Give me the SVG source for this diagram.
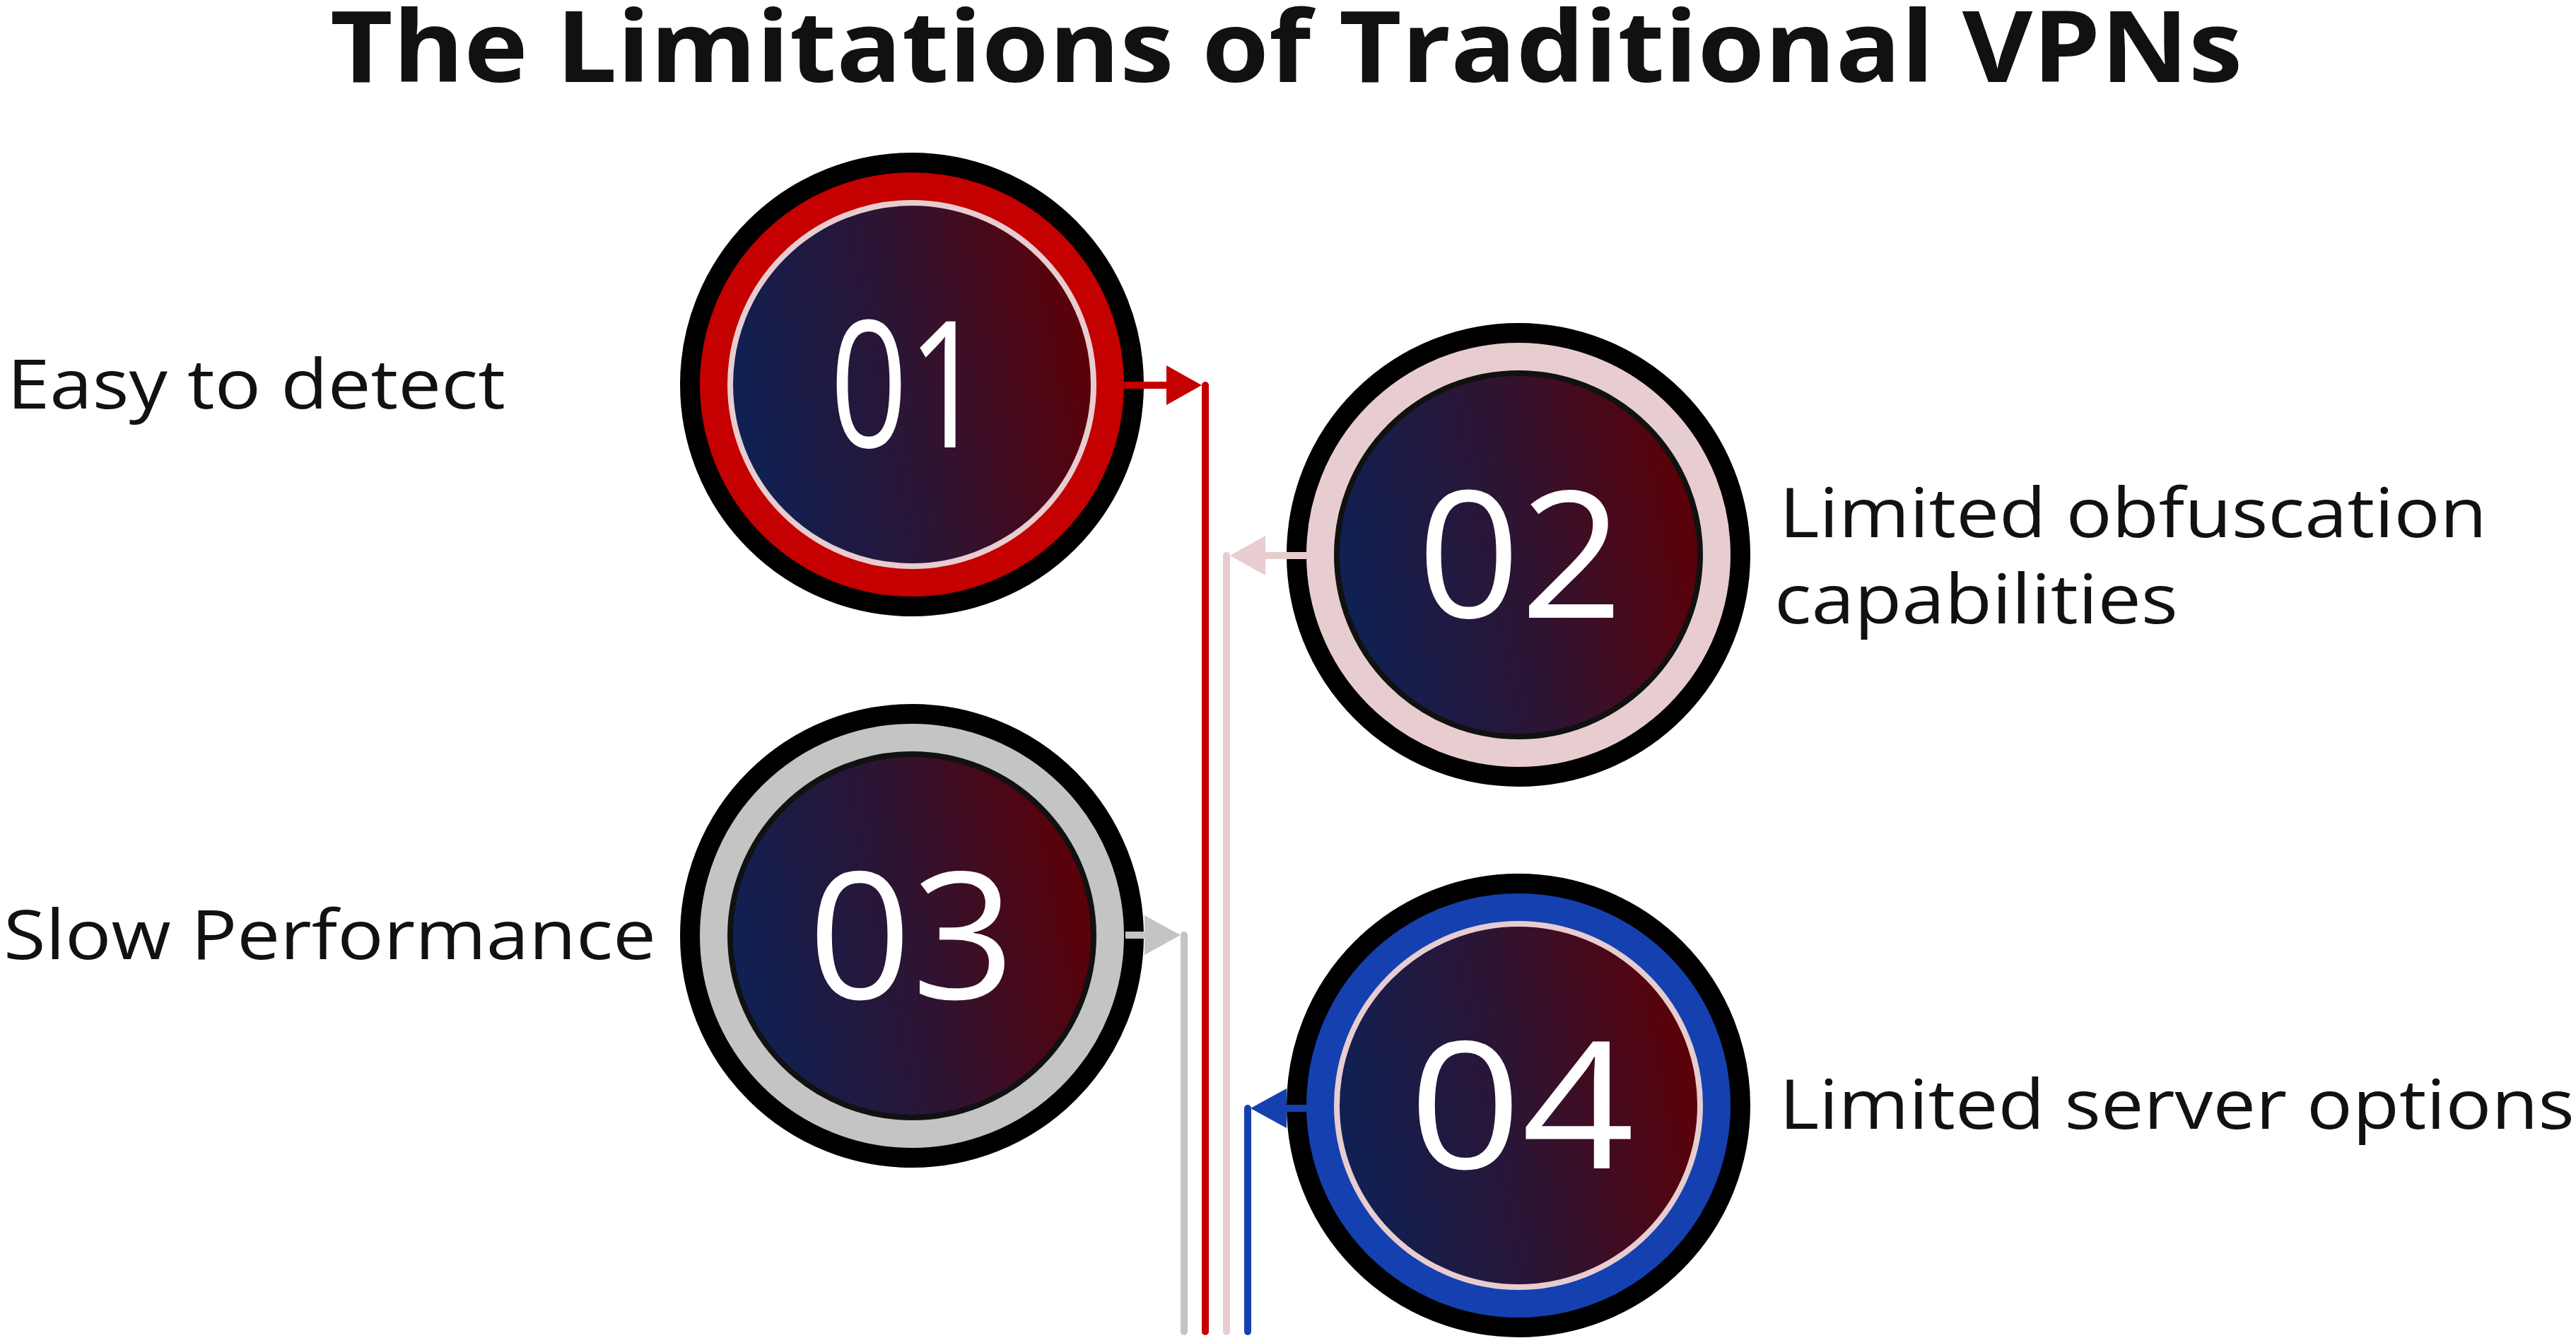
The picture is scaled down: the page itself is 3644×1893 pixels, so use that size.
<svg xmlns="http://www.w3.org/2000/svg" width="3644" height="1893" viewBox="0 0 3644 1893">
<defs>
<linearGradient id="g" x1="0" y1="0.6" x2="1" y2="0.4">
<stop offset="0" stop-color="#0E2155"/>
<stop offset="0.5" stop-color="#2D1433"/>
<stop offset="1" stop-color="#5E0006"/>
</linearGradient>
</defs>
<style>
.outer{stroke:#000;stroke-width:28}
.inner{fill:url(#g);stroke-width:8}
.num{font-family:"Open Sans","Liberation Sans",sans-serif;font-size:250px;fill:#fff}
.lbl{font-family:"Open Sans","Liberation Sans",sans-serif;font-size:97px;fill:#111}
.title{font-family:"Open Sans","Liberation Sans",sans-serif;font-size:140px;font-weight:700;fill:#111}
.v{stroke-width:10;stroke-linecap:round;fill:none}
.h{stroke-width:10;fill:none}
</style>
<rect width="3644" height="1893" fill="#fff"/>
<text class="title" x="467" y="116" textLength="2705" lengthAdjust="spacingAndGlyphs">The Limitations of Traditional VPNs</text>

<g id="connectors">
<line class="v" x1="1675" y1="1323" x2="1675" y2="1884" stroke="#C4C4C4"/>
<line class="v" x1="1705" y1="545" x2="1705" y2="1884" stroke="#C40000"/>
<line class="v" x1="1735" y1="786" x2="1735" y2="1884" stroke="#E8CDD0"/>
<line class="v" x1="1765" y1="1568" x2="1765" y2="1884" stroke="#1540B0"/>
</g>

<g id="node1">
<circle class="outer" cx="1290" cy="544" r="314" fill="#C40000"/>
<circle class="inner" cx="1290" cy="544" r="257" stroke="#E8CDD0"/>
<text class="num" x="1174" y="633" textLength="220" lengthAdjust="spacingAndGlyphs">01</text>
<text class="lbl" x="10" y="578" textLength="705" lengthAdjust="spacingAndGlyphs">Easy to detect</text>
<line class="h" x1="1590" y1="545" x2="1652" y2="545" stroke="#C40000"/>
<polygon points="1650,517 1700,545 1650,573" fill="#C40000"/>
</g>

<g id="node2">
<circle class="outer" cx="2148" cy="785" r="314" fill="#E8CDD0"/>
<circle class="inner" cx="2148" cy="785" r="257" stroke="#111"/>
<text class="num" x="2005" y="874" textLength="291" lengthAdjust="spacingAndGlyphs">02</text>
<text class="lbl" x="2517" y="760" textLength="1001" lengthAdjust="spacingAndGlyphs">Limited obfuscation</text>
<text class="lbl" x="2510" y="882" textLength="571" lengthAdjust="spacingAndGlyphs">capabilities</text>
<line class="h" x1="1848" y1="786" x2="1788" y2="786" stroke="#E8CDD0"/>
<polygon points="1790,758 1740,786 1790,814" fill="#E8CDD0"/>
</g>

<g id="node3">
<circle class="outer" cx="1290" cy="1324" r="314" fill="#C4C4C4"/>
<circle class="inner" cx="1290" cy="1324" r="257" stroke="#111"/>
<text class="num" x="1143" y="1413" textLength="293" lengthAdjust="spacingAndGlyphs">03</text>
<text class="lbl" x="5" y="1357" textLength="923" lengthAdjust="spacingAndGlyphs">Slow Performance</text>
<line class="h" x1="1592" y1="1323" x2="1621" y2="1323" stroke="#C4C4C4"/>
<polygon points="1619,1295 1670,1323 1619,1351" fill="#C4C4C4"/>
</g>

<g id="node4">
<circle class="outer" cx="2148" cy="1564" r="314" fill="#1540B0"/>
<circle class="inner" cx="2148" cy="1564" r="257" stroke="#E8CDD0"/>
<text class="num" x="1993" y="1653" textLength="319" lengthAdjust="spacingAndGlyphs">04</text>
<text class="lbl" x="2517" y="1597" textLength="1125" lengthAdjust="spacingAndGlyphs">Limited server options</text>
<line class="h" x1="1848" y1="1568" x2="1818" y2="1568" stroke="#1540B0"/>
<polygon points="1820,1540 1769,1568 1820,1596" fill="#1540B0"/>
</g>
</svg>
